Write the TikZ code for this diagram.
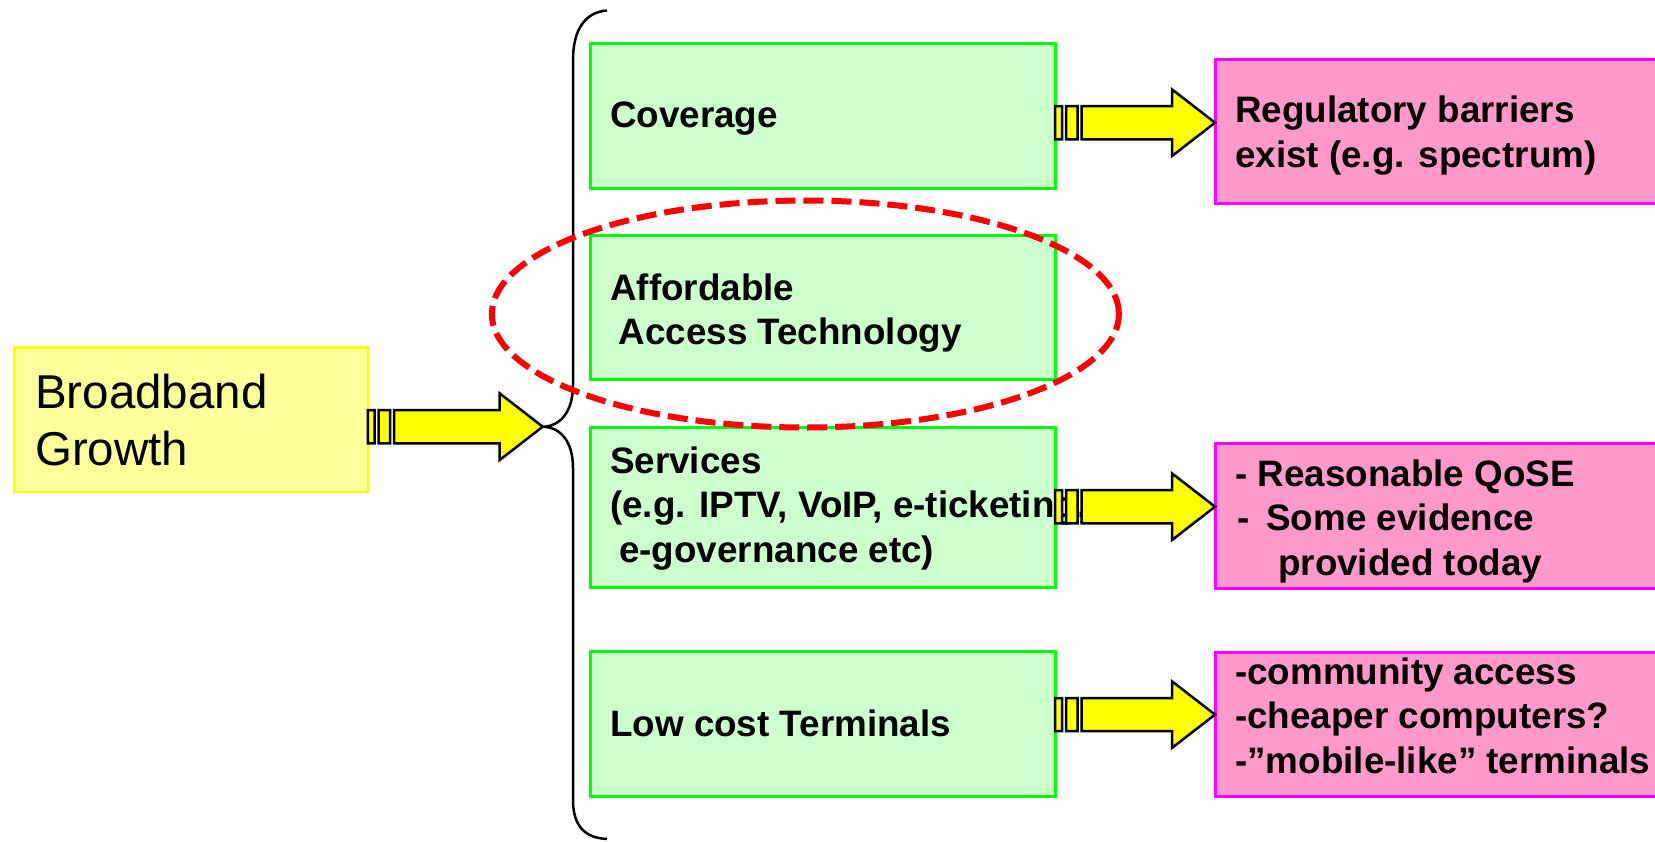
\documentclass[tikz,border=0pt]{standalone}
\usepackage{fontspec}
\setmainfont{Liberation Sans}
\usetikzlibrary{calc,shapes.geometric}

\definecolor{growthfill}{HTML}{FFFF99}
\definecolor{growthline}{HTML}{FFFF00}
\definecolor{factorfill}{HTML}{CCFFCC}
\definecolor{factorline}{HTML}{00FF00}
\definecolor{issuefill}{HTML}{FF99CC}
\definecolor{issueline}{HTML}{FF00FF}
\definecolor{arrowfill}{HTML}{FFFF00}
\definecolor{focusred}{HTML}{FF0000}

\tikzset{
  growthbox/.style={draw=growthline, fill=growthfill, line width=2.5pt,
    anchor=north west, inner sep=0pt, minimum width=353.4, minimum height=144.7},
  factorbox/.style={draw=factorline, fill=factorfill, line width=2.5pt,
    anchor=north west, inner sep=0pt, minimum width=465},
  issuebox/.style={draw=issueline, fill=issuefill, line width=2.5pt,
    anchor=north west, inner sep=0pt, minimum width=500},
  % multi-line texts are placed by the baseline of their last line
  boxtext/.style={anchor=base west, inner sep=0pt, align=left,
    font=\bfseries\fontsize{36.8pt}{44.5pt}\selectfont},
  bigtext/.style={anchor=base west, inner sep=0pt, align=left,
    font=\fontsize{47.5pt}{56.7pt}\selectfont},
  blockarrow/.style={draw=black, fill=arrowfill, line width=2.5pt, line join=miter},
  bracket/.style={draw=black, line width=2.5pt},
  focusring/.style={draw=focusred, line width=6pt, dash pattern=on 20pt off 8pt,
    ellipse, inner sep=0pt, minimum width=627, minimum height=227}
}

% block arrow: two small bars, a shaft and a head, from tail #1 to tip #2
\newcommand\yarrow[2]{%
  \draw[blockarrow] let \p1=(#1), \p2=(#2) in
    (\x1-1.3pt,\y1-16.6pt) rectangle (\x1+5.5pt,\y1+16.6pt)
    (\x1+9.5pt,\y1-16.6pt) rectangle (\x1+21pt,\y1+16.6pt)
    (\x1+25pt,\y1+16.6pt) -- (\x2-43pt,\y1+16.6pt) -- (\x2-43pt,\y1+33.3pt)
    -- (\x2,\y2) -- (\x2-43pt,\y1-33.3pt) -- (\x2-43pt,\y1-16.6pt)
    -- (\x1+25pt,\y1-16.6pt) -- cycle;}

\begin{document}
\begin{tikzpicture}[x=1pt, y=-1pt]
  \useasboundingbox (0,0) rectangle (1655,841);
  \clip (0,0) rectangle (1655,841);

  % source
  \node[growthbox] (yb) at (13.3,346) {};
  \node[bigtext] (tb) at (35,465) {Broadband\\Growth};

  % factors
  \node[factorbox, minimum height=145] (g1) at (589,42) {};
  \node[factorbox, minimum height=144] (g2) at (589,234) {};
  \node[factorbox, minimum height=160] (g3) at (589,426) {};
  \node[factorbox, minimum height=145] (g4) at (589,650) {};

  % issues
  \node[issuebox, minimum height=144] (p1) at (1214,58.3) {};
  \node[issuebox, minimum height=145] (p2) at (1214,442) {};
  \node[issuebox, minimum height=144] (p3) at (1214,651) {};

  % texts
  \node[boxtext] (t1) at (610,127.5) {Coverage};
  \node[boxtext] (t2) at (610,344.5) {Affordable\\\hspace*{8.4pt}Access Technology};
  \node[boxtext] (t3) at (610,562) {Services\\(e.g. IPTV, VoIP, e-ticketing,\\\hspace*{9pt}e-governance etc)};
  \node[boxtext] (t4) at (610,736.5) {Low cost Terminals};
  \node[boxtext] (q1) at (1235,167) {Regulatory barriers\\exist (e.g. spectrum)};
  \node[boxtext] (q2) at (1235,575) {- Reasonable QoSE\\\hspace*{2pt}-\hspace*{17pt}Some evidence\\\hspace*{43pt}provided today};
  \node[boxtext] (q3) at (1235,773) {-community access\\-cheaper computers?\\-\textquotedblright mobile-like\textquotedblright\ terminals};

  % brace gathering the factors
  \coordinate (bt) at (542.7,426.7);
  \draw[bracket] (607,10.5) .. controls (585,12) and (573,30) .. (573,60)
    -- (573,385) .. controls (573,412) and (560,426.5) .. (bt)
    .. controls (560,427) and (573,441) .. (573,468)
    -- (573,800) .. controls (573,826) and (585,838) .. (607,839);

  % arrows
  \coordinate (a1) at (1215,122.7);
  \coordinate (a3) at (1215,506.7);
  \coordinate (a4) at (1215,714.6);
  \yarrow{yb.east |- bt}{bt}
  \yarrow{g1.east |- a1}{a1}
  \yarrow{g3.east |- a3}{a3}
  \yarrow{g4.east |- a4}{a4}

  % highlighted factor
  \node[focusring] (focus) at (805.4,314) {};
\end{tikzpicture}
\end{document}
